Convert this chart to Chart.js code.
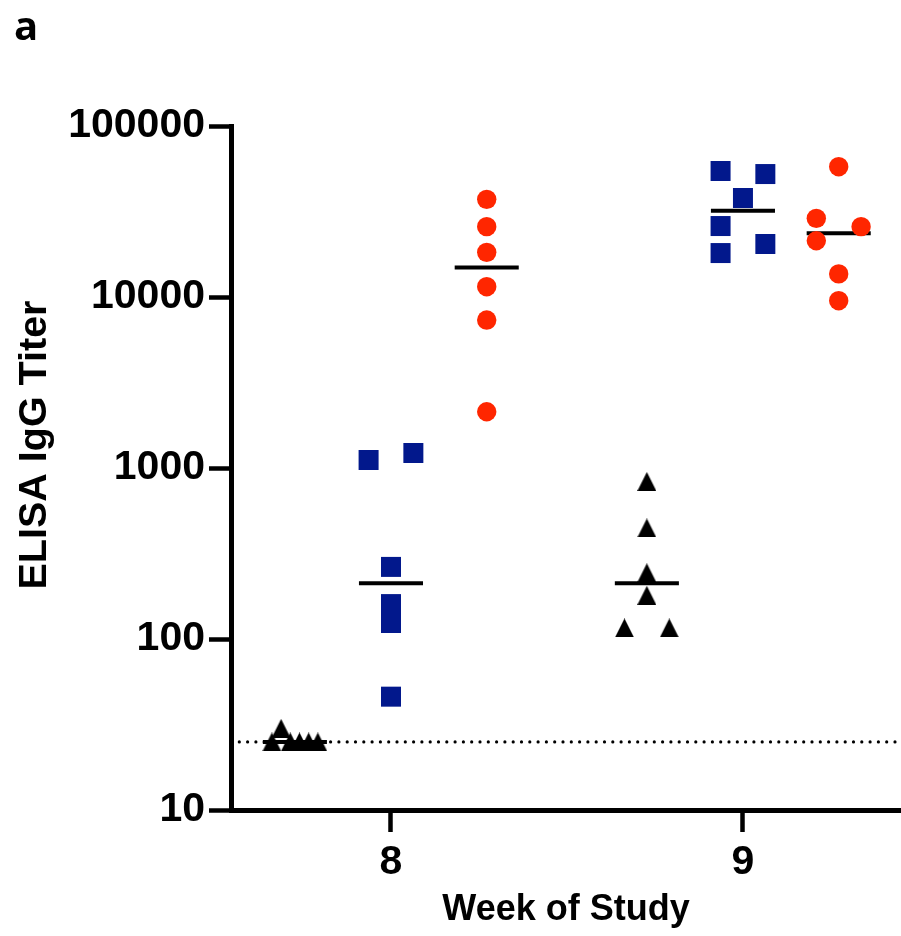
<!DOCTYPE html>
<html>
<head>
<meta charset="utf-8">
<script src="https://cdn.jsdelivr.net/npm/chart.js@4.4.1/dist/chart.umd.min.js"></script>
<style>
  html, body { margin: 0; padding: 0; background: #ffffff; }
  #wrap { position: relative; width: 901px; height: 936px; }
  canvas { display: block; }
</style>
</head>
<body>
<div id="wrap"><canvas id="c" width="901" height="936"></canvas></div>
<script>
// ---- data ----
const weeks = [8, 9];
const yTickValues = [10, 100, 1000, 10000, 100000];
const detectionLimit = 25;

// titers, week 8
const trianglesWeek8 = [25, 30, 25, 25, 25, 25];
const squaresWeek8   = [1114, 1224, 264, 160, 124, 46];
const circlesWeek8   = [37240, 25780, 18240, 11490, 7330, 2133];
// titers, week 9
const trianglesWeek9 = [834, 446, 244, 180, 116, 116];
const squaresWeek9   = [54570, 52360, 37930, 26000, 20420, 18070];
const circlesWeek9   = [57800, 28840, 25780, 21330, 13650, 9510];

// ---- layout (horizontal spreading of overlapping symbols) ----
const groupShift = { tri: -0.273, sq: 0, circ: 0.272 };
const spreadStep = 0.0636;       // one symbol width, in weeks
const spreadStepTight = 0.0261;
const spread = {
  tri8:  [-2.5, -1.5, -0.5, 0.5, 1.5, 2.5].map(v => v * spreadStepTight),
  sq8:   [-1, 1, 0, 0, 0, 0].map(v => v * spreadStep),
  circ8: [0, 0, 0, 0, 0, 0],
  tri9:  [0, 0, 0, 0, -1, 1].map(v => v * spreadStep),
  sq9:   [-1, 1, 0, -1, 1, -1].map(v => v * spreadStep),
  circ9: [0, -1, 1, -1, 0, 0].map(v => v * spreadStep)
};
const medianHalfWidth = 0.091;

function median(arr) {
  const s = [...arr].sort((a, b) => a - b);
  const m = Math.floor(s.length / 2);
  return s.length % 2 ? s[m] : (s[m - 1] + s[m]) / 2;
}
function pts(values, week, shift, offs) {
  return values.map((v, i) => ({ x: week + shift + offs[i], y: v }));
}
function medLine(values, week, shift) {
  const m = median(values);
  return [{ x: week + shift - medianHalfWidth, y: m }, { x: week + shift + medianHalfWidth, y: m }];
}

// triangle symbol, centred on its bounding box
const triCanvas = document.createElement('canvas');
triCanvas.width = 19; triCanvas.height = 19;
(function () {
  const g = triCanvas.getContext('2d');
  g.fillStyle = '#000000';
  g.beginPath(); g.moveTo(9.5, 0); g.lineTo(19, 19); g.lineTo(0, 19); g.closePath(); g.fill();
})();

const BLUE = '#02188C';
const RED = '#FF2600';
const xMin = 7.5455, xMax = 9.449;

const pointDefaults = { showLine: false, pointBorderWidth: 0, pointHoverRadius: 0 };
const medianDefaults = {
  type: 'line', showLine: true, pointRadius: 0, borderColor: '#000000',
  borderWidth: 4, borderCapStyle: 'butt', fill: false
};

const datasets = [
  Object.assign({ label: 'LOD', type: 'line', showLine: true, pointRadius: 0,
    data: [{ x: xMin, y: detectionLimit }, { x: xMax, y: detectionLimit }],
    borderColor: '#000000', borderWidth: 3.2, borderDash: [0, 8.3], borderCapStyle: 'round', fill: false }),
  Object.assign({ label: 'tri8', data: pts(trianglesWeek8, weeks[0], groupShift.tri, spread.tri8),
    pointStyle: triCanvas, backgroundColor: '#000' }, pointDefaults),
  Object.assign({ label: 'sq8', data: pts(squaresWeek8, weeks[0], groupShift.sq, spread.sq8),
    pointStyle: 'rect', pointRadius: 14.14, backgroundColor: BLUE }, pointDefaults),
  Object.assign({ label: 'circ8', data: pts(circlesWeek8, weeks[0], groupShift.circ, spread.circ8),
    pointStyle: 'circle', pointRadius: 9.7, backgroundColor: RED }, pointDefaults),
  Object.assign({ label: 'tri9', data: pts(trianglesWeek9, weeks[1], groupShift.tri, spread.tri9),
    pointStyle: triCanvas, backgroundColor: '#000' }, pointDefaults),
  Object.assign({ label: 'sq9', data: pts(squaresWeek9, weeks[1], groupShift.sq, spread.sq9),
    pointStyle: 'rect', pointRadius: 14.14, backgroundColor: BLUE }, pointDefaults),
  Object.assign({ label: 'circ9', data: pts(circlesWeek9, weeks[1], groupShift.circ, spread.circ9),
    pointStyle: 'circle', pointRadius: 9.7, backgroundColor: RED }, pointDefaults),
  Object.assign({ label: 'm-tri8', data: medLine(trianglesWeek8, weeks[0], groupShift.tri) }, medianDefaults),
  Object.assign({ label: 'm-sq8', data: medLine(squaresWeek8, weeks[0], groupShift.sq) }, medianDefaults),
  Object.assign({ label: 'm-circ8', data: medLine(circlesWeek8, weeks[0], groupShift.circ) }, medianDefaults),
  Object.assign({ label: 'm-tri9', data: medLine(trianglesWeek9, weeks[1], groupShift.tri) }, medianDefaults),
  Object.assign({ label: 'm-sq9', data: medLine(squaresWeek9, weeks[1], groupShift.sq) }, medianDefaults),
  Object.assign({ label: 'm-circ9', data: medLine(circlesWeek9, weeks[1], groupShift.circ) }, medianDefaults)
];

const fontFamily = '"Liberation Sans", Arial, sans-serif';
const yTitleText = 'ELISA IgG Titer';

const extraText = {
  id: 'extraText',
  afterDraw(chart) {
    const ctx = chart.ctx;
    ctx.save();
    ctx.fillStyle = '#000';
    ctx.font = 'bold 40px "Open Sans"';
    ctx.textBaseline = 'alphabetic';
    ctx.textAlign = 'left';
    ctx.fillText('a', 14, 40);
    // y-axis title
    ctx.translate(46, 445);
    ctx.rotate(-Math.PI / 2);
    ctx.font = 'bold 39.5px ' + fontFamily;
    ctx.textAlign = 'center';
    ctx.textBaseline = 'alphabetic';
    ctx.fillText(yTitleText, 0, 0);
    ctx.restore();
  }
};

const tickFont = { family: fontFamily, weight: 'bold', size: 41 };
const titleFont = { family: fontFamily, weight: 'bold', size: 36 };

new Chart(document.getElementById('c'), {
  type: 'scatter',
  data: { datasets },
  options: {
    responsive: false,
    animation: false,
    events: [],
    layout: { autoPadding: false, padding: { top: 126, right: 0, bottom: 0, left: 0 } },
    plugins: { legend: { display: false }, tooltip: { enabled: false }, title: { display: false } },
    scales: {
      x: {
        type: 'linear', min: xMin, max: xMax,
        afterBuildTicks: s => { s.ticks = weeks.map(v => ({ value: v })); },
        afterFit: s => { s.height = 126; },
        border: { display: true, color: '#000', width: 5 },
        grid: { drawOnChartArea: false, drawTicks: true, tickLength: 22, tickWidth: 4.5, tickColor: '#000' },
        ticks: { color: '#000', font: tickFont, padding: 6, maxRotation: 0, autoSkip: false,
          callback: v => String(v) },
        title: { display: true, text: 'Week of Study', color: '#000', font: titleFont,
          padding: { top: 0, bottom: 4 } }
      },
      y: {
        type: 'logarithmic', min: 10, max: 100000,
        afterBuildTicks: s => { s.ticks = yTickValues.map(v => ({ value: v })); },
        afterFit: s => { s.width = 231; },
        border: { display: true, color: '#000', width: 5 },
        grid: { drawOnChartArea: false, drawTicks: true, tickLength: 22, tickWidth: 4.5, tickColor: '#000' },
        ticks: { color: '#000', font: tickFont, padding: 4, autoSkip: false,
          callback: v => String(v) },
        title: { display: false }
      }
    }
  },
  plugins: [extraText]
});
</script>
</body>
</html>
